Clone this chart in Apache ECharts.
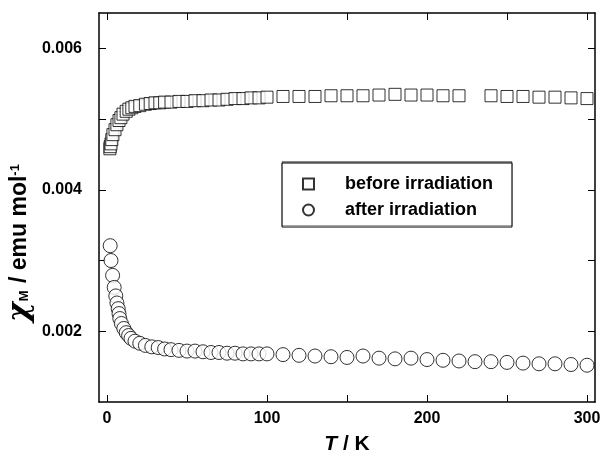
<!DOCTYPE html>
<html>
<head>
<meta charset="utf-8">
<script src="https://cdn.jsdelivr.net/npm/echarts@6/dist/echarts.min.js"></script>
<style>
  html, body { margin: 0; padding: 0; background: #fff; }
  #chart { width: 604px; height: 450px; }
</style>
</head>
<body>
<div id="chart"></div>
<script>
// temperatures (K) and chi_M (emu/mol)
const beforeT = [1.8, 2, 2.5, 3, 3.7, 5, 6.2, 7.5, 8.7, 10, 12, 13.7, 15.5, 17.5, 20.5, 24, 27, 30, 33, 36, 40,
  45, 50, 55, 60, 65, 70, 75, 80, 85, 90, 95, 100, 110, 120, 130, 140, 150, 160, 170, 180, 190, 200, 210, 220,
  240, 250, 260, 270, 280, 290, 300]
const beforeChi = [0.00458, 0.00461, 0.00465, 0.00471, 0.00478, 0.00485, 0.00492, 0.00498, 0.00502, 0.00507,
  0.00511, 0.00514, 0.00516, 0.00518, 0.00519, 0.00521, 0.00522, 0.00523, 0.00523, 0.00524, 0.00524,
  0.00525, 0.00525, 0.00526, 0.00526, 0.00527, 0.00527, 0.00528, 0.00529, 0.00529, 0.00530, 0.00530, 0.00531,
  0.00532, 0.00532, 0.00532, 0.00533, 0.00533, 0.00533, 0.00534, 0.00535, 0.00534, 0.00534, 0.00533, 0.00533,
  0.00533, 0.00532, 0.00532, 0.00531, 0.00531, 0.00530, 0.00529]

const afterT = [2, 2.5, 3.5, 4.5, 5.5, 6.2, 7, 7.5, 8, 9, 10.5, 12, 13.5, 15, 17.5, 20.5, 24, 28, 32, 36, 40,
  45, 50, 55, 60, 65, 70, 75, 80, 85, 90, 95, 100, 110, 120, 130, 140, 150, 160, 170, 180, 190, 200,
  210, 220, 230, 240, 250, 260, 270, 280, 290, 300]
const afterChi = [0.00321, 0.00300, 0.00279, 0.00262, 0.00250, 0.00240, 0.00232, 0.00225, 0.00218, 0.00211,
  0.00204, 0.00198, 0.00194, 0.00190, 0.00186, 0.00183, 0.00180, 0.00178, 0.00177, 0.00175, 0.00174,
  0.00173, 0.00172, 0.00172, 0.00171, 0.00170, 0.00170, 0.00169, 0.00169, 0.00168, 0.00168, 0.00168, 0.00168,
  0.00167, 0.00166, 0.00165, 0.00164, 0.00163, 0.00165, 0.00162, 0.00161, 0.00162, 0.00160,
  0.00159, 0.00158, 0.00157, 0.00157, 0.00156, 0.00155, 0.00154, 0.00154, 0.00153, 0.00152]

const xTicks = [0, 50, 100, 150, 200, 250, 300]
const xLabels = [0, 100, 200, 300]
const yTicks = [0.002, 0.003, 0.004, 0.005, 0.006]
const yLabels = [0.002, 0.004, 0.006]

const FONT = 'Liberation Sans, Arial, sans-serif'
const zip = (xs, ys) => xs.map((x, i) => [x, ys[i]])

const chart = echarts.init(document.getElementById('chart'), null, { renderer: 'canvas' })

const frameLine = { show: true, onZero: false, lineStyle: { color: '#000', width: 1.5 } }
const tickStyle = { lineStyle: { color: '#000', width: 1 } }

const option = {
  animation: false,
  backgroundColor: '#fff',
  grid: { left: 99, right: 9, top: 13, bottom: 48, containLabel: false, outerBoundsMode: 'none' },
  xAxis: [
    {
      type: 'value', min: -5, max: 305, position: 'bottom',
      axisLine: frameLine,
      axisTick: { show: true, inside: true, length: 7, customValues: xTicks, ...tickStyle },
      axisLabel: {
        customValues: xLabels, margin: 9,
        color: '#000', fontFamily: FONT, fontWeight: 'bold', fontSize: 16,
      },
      splitLine: { show: false },
      name: '{i|T} / K',
      nameLocation: 'middle', nameGap: 32,
      nameTextStyle: {
        color: '#000', fontFamily: FONT, fontWeight: 'bold', fontSize: 21,
        rich: { i: { fontStyle: 'italic', fontWeight: 'bold', fontFamily: FONT, fontSize: 21, color: '#000' } },
      },
    },
    {
      type: 'value', min: -5, max: 305, position: 'top',
      axisLine: frameLine,
      axisTick: { show: true, inside: true, length: 7, customValues: xTicks, ...tickStyle },
      axisLabel: { show: false },
      splitLine: { show: false },
    },
  ],
  yAxis: [
    {
      type: 'value', min: 0.001, max: 0.0065, position: 'left',
      axisLine: frameLine,
      axisTick: { show: true, inside: true, length: 7, customValues: yTicks, ...tickStyle },
      axisLabel: {
        customValues: yLabels, margin: 17,
        formatter: v => v.toFixed(3),
        color: '#000', fontFamily: FONT, fontWeight: 'bold', fontSize: 16,
      },
      splitLine: { show: false },
    },
    {
      type: 'value', min: 0.001, max: 0.0065, position: 'right',
      axisLine: frameLine,
      axisTick: { show: true, inside: true, length: 7, customValues: yTicks, ...tickStyle },
      axisLabel: { show: false },
      splitLine: { show: false },
    },
  ],
  legend: {
    orient: 'vertical',
    left: 282, top: 163,
    padding: [11, 19, 7, 20],
    itemGap: 6,
    itemWidth: 11, itemHeight: 11,
    borderColor: '#000', borderWidth: 1, borderRadius: 0,
    backgroundColor: '#fff',
    shadowColor: 'rgba(0,0,0,0.35)', shadowBlur: 0, shadowOffsetX: 0, shadowOffsetY: -1.5,
    textStyle: {
      color: '#000', fontFamily: FONT, fontWeight: 'bold', fontSize: 18, lineHeight: 20,
      padding: [0, 0, 0, 26],
    },
    data: [
      { name: 'before irradiation', icon: 'rect' },
      { name: 'after irradiation', icon: 'circle' },
    ],
  },
  graphic: [
    {
      type: 'text',
      x: 20, y: 243,
      rotation: Math.PI / 2,
      style: {
        text: '{c|χ}{s|M}{n| / emu mol}{p|-1}',
        align: 'center', verticalAlign: 'middle',
        fill: '#000',
        rich: {
          c: { fontFamily: 'DejaVu Serif, serif', fontStyle: 'italic', fontWeight: 'bold', fontSize: 30, lineHeight: 28, verticalAlign: 'middle' },
          s: { fontFamily: FONT, fontWeight: 'bold', fontSize: 13, lineHeight: 28, verticalAlign: 'bottom', padding: [0, 1, 3, 1] },
          n: { fontFamily: FONT, fontWeight: 'bold', fontSize: 23, lineHeight: 28, verticalAlign: 'middle' },
          p: { fontFamily: FONT, fontWeight: 'bold', fontSize: 13, lineHeight: 28, verticalAlign: 'top', padding: [3, 0, 0, 0] },
        },
      },
    },
  ],
  series: [
    {
      name: 'before irradiation', type: 'scatter',
      data: zip(beforeT, beforeChi),
      symbol: 'rect', symbolSize: 12,
      itemStyle: { color: '#fff', borderColor: '#000', borderWidth: 1 },
    },
    {
      name: 'after irradiation', type: 'scatter',
      data: zip(afterT, afterChi),
      symbol: 'circle', symbolSize: 14,
      itemStyle: { color: '#fff', borderColor: '#000', borderWidth: 1 },
    },
  ],
}

chart.setOption(option)
</script>
</body>
</html>
